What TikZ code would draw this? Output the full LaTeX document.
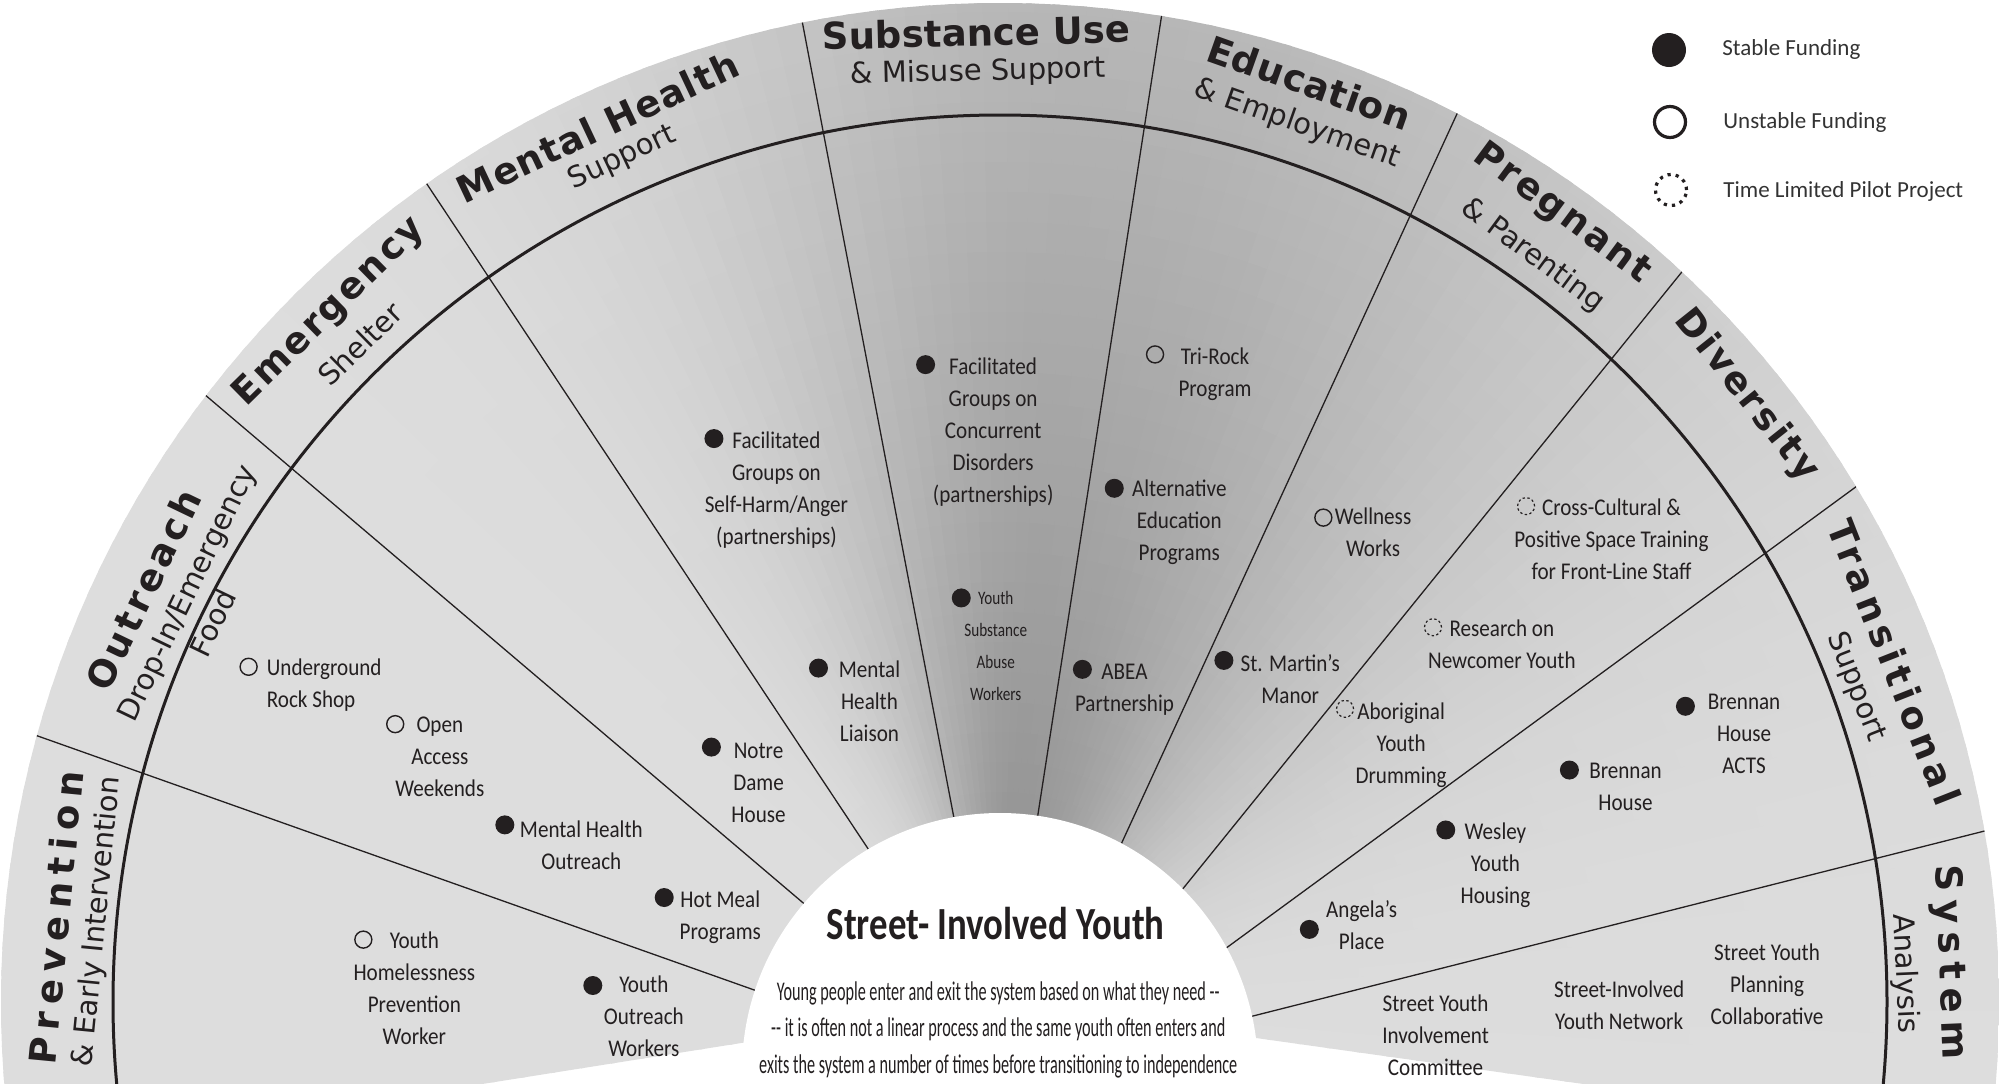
\documentclass[tikz,border=0pt]{standalone}
\usepackage{fontspec}
\setmainfont{Carlito}
\newfontfamily\hdfont{DejaVu Sans}
\newfontfamily\bodyfont[FakeStretch=0.88]{Carlito}
\newfontfamily\smallbodyfont[FakeStretch=0.8]{Carlito}
\newfontfamily\parafont[FakeStretch=0.6]{Carlito}
\newfontfamily\ctitlefont[FakeStretch=0.8]{Carlito}
\usetikzlibrary{calc}
\definecolor{ink}{HTML}{231F20}
\definecolor{lgink}{HTML}{333333}
\begin{document}
\begin{tikzpicture}[x=0.5pt,y=-0.5pt,
  hdt/.style={font={\hdfont\bfseries\fontsize{18.5}{20}\selectfont\addfontfeature{LetterSpace=#1}}, text=ink, inner sep=0pt},
  hds/.style={font={\hdfont\fontsize{14.5}{16}\selectfont}, text=ink, inner sep=0pt},
  itx/.style={anchor=north, yshift=7.2pt, align=center, inner sep=0pt, text=ink, font={\bodyfont\fontsize{12}{16}\selectfont}},
  itxs/.style={anchor=north, yshift=8.1pt, align=center, inner sep=0pt, text=ink, font={\smallbodyfont\fontsize{9.5}{16}\selectfont}},
  fb/.style={circle, fill=ink, inner sep=0pt, minimum size=9.5pt},
  ob/.style={circle, draw=ink, line width=0.7pt, inner sep=0pt, minimum size=8.5pt},
  db/.style={circle, draw=ink, line width=0.6pt, dash pattern=on 1.2pt off 1.2pt, inner sep=0pt, minimum size=8.5pt},
  divider/.style={line width=0.65pt, draw=ink},
  thickarc/.style={line width=1.5pt, draw=ink},
  lgtext/.style={anchor=base west, inner sep=0pt, text=lgink, font={\fontsize{11.5}{14}\selectfont}}
]
\useasboundingbox (0,0) rectangle (1999,1083);
\fill[white] (0,0) rectangle (1999,1083);
\clip (0,0) rectangle (1999,1083);
\coordinate (O) at (1000,1002);
\coordinate (W) at (1000,1071);

% fan with shading
\begin{scope}
\clip (O) circle[radius=999];
\foreach \a in {-8,-6.5,...,188}{
  \pgfmathsetmacro\na{0-(\a)}
  \pgfmathsetmacro\nb{0-(\a)-2.0}
  \pgfmathsetmacro\s{ifthenelse(\a>85,25,42)}
  \pgfmathsetmacro\t{(\a+0.75-85)/\s}
  \pgfmathsetmacro\G{0.275*exp(0-\t*\t)}
  \foreach \r in {150,180,...,990}{
    \pgfmathsetmacro\ro{\r+34}
    \pgfmathsetmacro\rf{min(1,0.55+0.45*(1-(\r+15-200)/800))}
    \pgfmathsetmacro\g{0.867-\G*\rf}
    \definecolor{wc}{gray}{\g}
    \fill[wc,shift={(1000,1002)}] (\na:\r) arc[start angle=\na,end angle=\nb,radius=\r] -- (\nb:\ro) arc[start angle=\nb,end angle=\na,radius=\ro] -- cycle;
  }
}
\foreach \n/\ao/\ai in {1/164.5/161.8, 2/142.6/139.5, 3/125.0/120.6, 4/101.4/100.3, 5/80.7/81.6, 6/62.8/61.8, 7/47.0/44.7, 8/31.1/28.3, 9/9.9/12.2}{
  \coordinate (L\n o) at ($(O)+(-\ao:1010)$);
  \coordinate (L\n i) at ($(W)+(-\ai:250)$);
  \draw[divider] (L\n o) -- (L\n i);
}
\end{scope}

\fill[white] (W) circle[radius=258];
\draw[thickarc] (O) circle[radius=887];

% headers
\node[hdt=20, rotate=84.5] (hPrev) at ($(O)+(-174.9:948)$) {Prevention};
\node[hds, rotate=84.5] (sPrev) at ($(O)+(-174.9:906)$) {\& Early Intervention};
\node[hdt=10, rotate=64.3] (hOut) at ($(O)+(-154.3:951)$) {Outreach};
\node[hds, rotate=64.3] (sOut) at ($(O)+(-153.3:908)$) {Drop-In/Emergency};
\node[hds, rotate=64.3] (sFood) at ($(O)+(-154.3:874)$) {Food};
\node[hdt=7, rotate=44.5] (hEmer) at ($(O)+(-134.2:962)$) {Emergency};
\node[hds, rotate=44.5] (sEmer) at ($(O)+(-134.2:918)$) {Shelter};
\node[hdt=3, rotate=25.2] (hMH) at ($(O)+(-114.7:963)$) {Mental Health};
\node[hds, rotate=25.2] (sMH) at ($(O)+(-114.1:925)$) {Support};
\node[hdt=0, rotate=1.4] (hSub) at ($(O)+(-91.4:970)$) {Substance Use};
\node[hds, rotate=1.4] (sSub) at ($(O)+(-91.35:930)$) {\& Misuse Support};
\node[hdt=2, rotate=-19.5] (hEdu) at ($(O)+(-71.4:970)$) {Education};
\node[hds, rotate=-19.5] (sEdu) at ($(O)+(-71.3:927)$) {\& Employment};
\node[hdt=7, rotate=-36.5] (hPreg) at ($(O)+(-54.5:968)$) {Pregnant};
\node[hds, rotate=-36.5] (sPreg) at ($(O)+(-54.5:917)$) {\& Parenting};
\node[hdt=7, rotate=-51.5] (hDiv) at ($(O)+(-39.1:962)$) {Diversity};
\node[hdt=14, rotate=-68.5] (hTran) at ($(O)+(-20.8:957)$) {Transitional};
\node[hds, rotate=-68.5] (sTran) at ($(O)+(-20.2:912)$) {Support};
\node[hdt=22, rotate=-87.5] (hSys) at ($(O)+(-2.4:950)$) {System};
\node[hds, rotate=-87.5] (sSys) at ($(O)+(-1.8:905)$) {Analysis};

% legend
\node[fb, minimum size=17pt] (lg1) at (1669,50) {};
\node[ob, minimum size=15.5pt, line width=1.6pt] (lg2) at (1670,122) {};
\node[db, minimum size=15.5pt, line width=1.6pt, dash pattern=on 1.6pt off 2.5pt] (lg3) at (1671,190) {};
\node[lgtext] (lt1) at (1722,55) {Stable Funding};
\node[lgtext] (lt2) at (1723,128) {Unstable Funding};
\node[lgtext] (lt3) at (1723,197) {Time Limited Pilot Project};

% body texts (coordinates in reduced pixels)
\begin{scope}[scale=1.2749]
\node[ob] (b1) at (285,737) {};
\node[itx] (t1) at (325,737) {\strut Youth\\Homelessness\\Prevention\\Worker};
\node[fb] (b2) at (465,773) {};
\node[itx] (t2) at (505,772) {\strut Youth\\Outreach\\Workers};
\node[ob] (b3) at (195,523) {};
\node[itx, anchor=north west, align=left] (t3) at (209,523) {\strut Underground\\Rock Shop};
\node[ob] (b4) at (310,568) {};
\node[itx] (t4) at (345,568) {\strut Open\\Access\\Weekends};
\node[fb] (b5) at (396,647) {};
\node[itx] (t5) at (456,650) {\strut Mental Health\\Outreach};
\node[fb] (b6) at (521,704) {};
\node[itx] (t6) at (565,705) {\strut Hot Meal\\Programs};
\node[fb] (b7) at (560,344) {};
\node[itx] (t7) at (609,345) {\strut Facilitated\\Groups on\\Self-Harm/Anger\\(partnerships)};
\node[fb] (b8) at (642,524) {};
\node[itx] (t8) at (682,525) {\strut Mental\\Health\\Liaison};
\node[fb] (b9) at (558,586) {};
\node[itx] (t9) at (595,588) {\strut Notre\\Dame\\House};
\node[fb] (b10) at (726,286) {};
\node[itx] (t10) at (779,287) {\strut Facilitated\\Groups on\\Concurrent\\Disorders\\(partnerships)};
\node[fb] (b11) at (754,469) {};
\node[itxs] (t11) at (781,469) {\strut Youth\\Substance\\Abuse\\Workers};
\node[ob] (b12) at (906,278) {};
\node[itx] (t12) at (953,279) {\strut Tri-Rock\\Program};
\node[fb] (b13) at (874,383) {};
\node[itx] (t13) at (925,383) {\strut Alternative\\Education\\Programs};
\node[fb] (b14) at (849,525) {};
\node[itx] (t14) at (882,526) {\strut ABEA\\Partnership};
\node[ob] (b15) at (1038,406) {};
\node[itx] (t15) at (1077,405) {\strut Wellness\\Works};
\node[fb] (b16) at (960,518) {};
\node[itx] (t16) at (1012,520) {\strut St. Martin’s\\Manor};
\node[db] (b17) at (1197,397) {};
\node[itx] (t17) at (1264,398) {\strut Cross-Cultural \&\\Positive Space Training\\for Front-Line Staff};
\node[db] (b18) at (1124,492) {};
\node[itx] (t18) at (1178,493) {\strut Research on\\Newcomer Youth};
\node[db] (b19) at (1055,556) {};
\node[itx] (t19) at (1099,558) {\strut Aboriginal\\Youth\\Drumming};
\node[fb] (b20) at (1322,554) {};
\node[itx] (t20) at (1368,550) {\strut Brennan\\House\\ACTS};
\node[fb] (b21) at (1231,604) {};
\node[itx] (t21) at (1275,604) {\strut Brennan\\House};
\node[fb] (b22) at (1134,651) {};
\node[itx] (t22) at (1173,652) {\strut Wesley\\Youth\\Housing};
\node[fb] (b23) at (1027,729) {};
\node[itx] (t23) at (1068,713) {\strut Angela’s\\Place};
\node[itx] (t24) at (1126,787) {\strut Street Youth\\Involvement\\Committee};
\node[itx] (t25) at (1270,776) {\strut Street-Involved\\Youth Network};
\node[itx] (t26) at (1386,747) {\strut Street Youth\\Planning\\Collaborative};
% centre
\node[anchor=base, inner sep=0pt, text=ink, font={\ctitlefont\bfseries\fontsize{23}{26}\selectfont}] (ctitle) at (781,737) {Street- Involved Youth};
\node[anchor=north, yshift=8.3pt, align=center, inner sep=0pt, text=ink, font={\parafont\fontsize{13.5}{18.3}\selectfont}] (ctext) at (783,777) {\strut Young people enter and exit the system based on what they need -{}-\\-{}- it is often not a linear process and the same youth often enters and\\exits the system a number of times before transitioning to independence};
\end{scope}
\end{tikzpicture}
\end{document}
